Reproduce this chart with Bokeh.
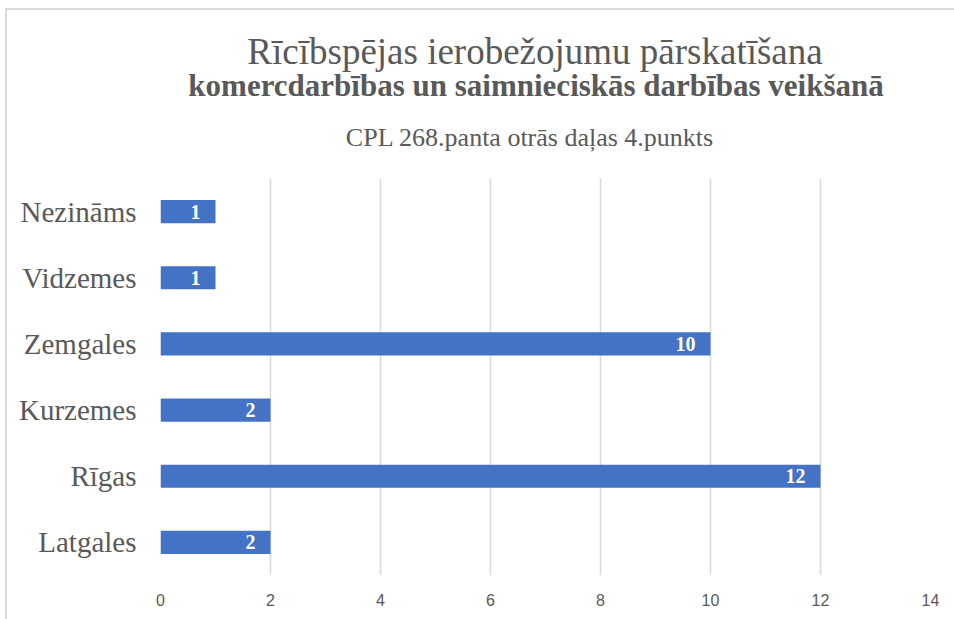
from bokeh.plotting import figure
from bokeh.models import ColumnDataSource, Label, FixedTicker, Range1d, FactorRange, LabelSet
from bokeh.layouts import column
from bokeh.core.properties import value
from bokeh.embed import file_html
from bokeh.resources import INLINE

categories = ["Latgales", "Rīgas", "Kurzemes", "Zemgales", "Vidzemes", "Nezināms"]
counts = [2, 12, 2, 10, 1, 1]
x_ticks = [0, 2, 4, 6, 8, 10, 12, 14]
title1 = "Rīcībspējas ierobežojumu pārskatīšana"
title2 = "komercdarbības un saimnieciskās darbības veikšanā"
title3 = "CPL 268.panta otrās daļas 4.punkts"

SERIF = "Liberation Serif"
W = 947

# ---- title strip (its frame is aligned with the chart frame by the column layout) ----
head = figure(width=W, height=168, x_range=Range1d(160, 931), y_range=Range1d(168, 0),
              output_backend="svg", toolbar_location=None,
              x_axis_location=None, y_axis_location=None,
              min_border=0, min_border_left=0, min_border_right=0,
              min_border_top=0, min_border_bottom=0)
head.outline_line_color = None
head.border_line_color = None
head.xgrid.grid_line_color = None
head.ygrid.grid_line_color = None
head.add_layout(Label(x=535, y=41, text=title1, text_align="center", text_baseline="alphabetic",
                      text_font=SERIF, text_font_size="37px", text_color="#595959"))
head.add_layout(Label(x=536, y=75, text=title2, text_align="center", text_baseline="alphabetic",
                      text_font=SERIF, text_font_size="31px", text_font_style="bold",
                      text_color="#595959"))
head.add_layout(Label(x=530, y=127, text=title3, text_align="center", text_baseline="alphabetic",
                      text_font=SERIF, text_font_size="26px", text_color="#595959"))

# ---- bar chart ----
src = ColumnDataSource(dict(cat=categories, val=counts, lab=[str(v) for v in counts]))

p = figure(width=W, height=441, y_range=FactorRange(*categories), x_range=Range1d(0, 14),
           output_backend="svg", toolbar_location=None,
           min_border_left=153, min_border_right=24, min_border_top=0, min_border_bottom=44)
p.outline_line_color = None
p.border_line_color = None
p.background_fill_color = "white"

p.hbar(y="cat", right="val", left=0, height=0.35, source=src, color="#4472C4", line_color=None)

labels = LabelSet(x="val", y="cat", text="lab", source=src, x_offset=-15,
                  text_align="right", text_baseline="middle",
                  text_color="white", text_font=value(SERIF), text_font_style="bold",
                  text_font_size="20px")
p.add_layout(labels)

p.xaxis.ticker = FixedTicker(ticks=x_ticks)
p.xaxis.axis_line_color = None
p.xaxis.major_tick_line_color = None
p.xaxis.minor_tick_line_color = None
p.xaxis.major_label_text_font = "Liberation Sans"
p.xaxis.major_label_text_font_size = "16px"
p.xaxis.major_label_text_color = "#595959"
p.xaxis.major_label_standoff = 12

p.yaxis.axis_line_color = None
p.yaxis.major_tick_line_color = None
p.yaxis.major_label_text_font = SERIF
p.yaxis.major_label_text_font_size = "29px"
p.yaxis.major_label_text_color = "#595959"
p.yaxis.major_label_standoff = 18

p.xgrid.grid_line_color = "#D9D9D9"
p.xgrid.grid_line_width = 1.5
p.ygrid.grid_line_color = None

layout = column(head, p, spacing=0)
layout.styles = {"border-top": "2px solid #D9D9D9", "border-left": "2px solid #D9D9D9",
                 "margin-left": "5px", "margin-top": "8px"}

open("out.html", "w").write(file_html(layout, INLINE))
